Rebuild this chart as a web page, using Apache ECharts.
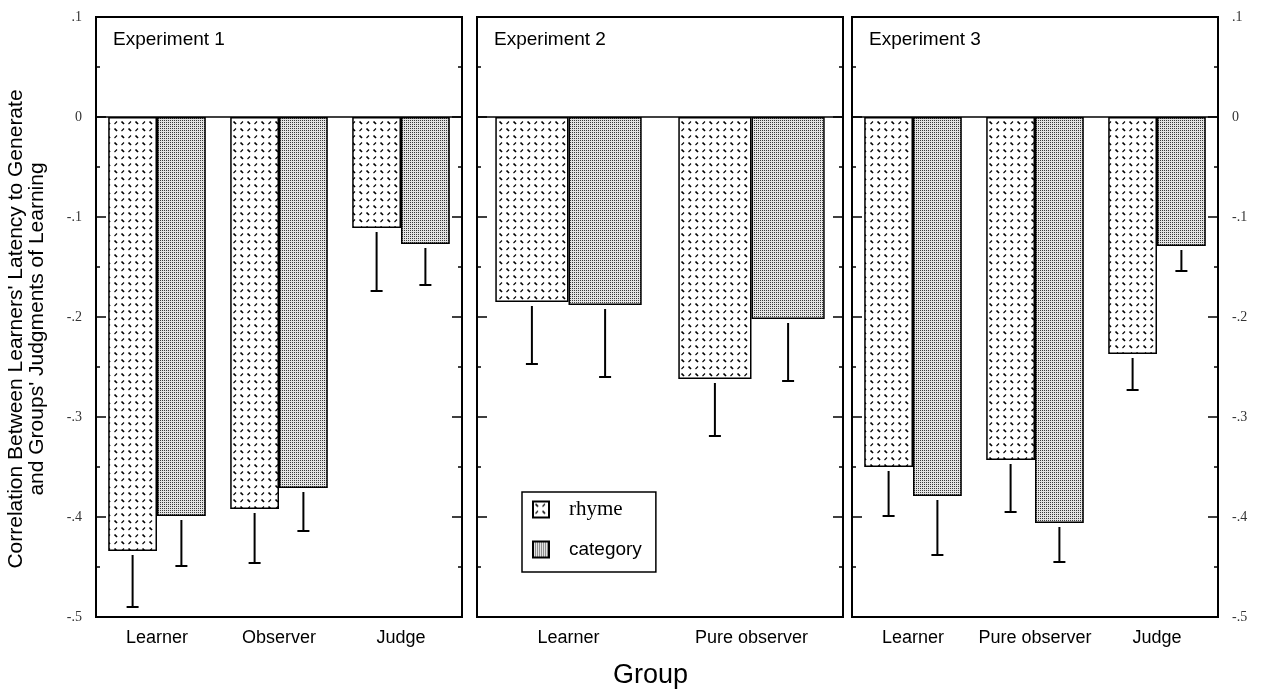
<!DOCTYPE html>
<html>
<head>
<meta charset="utf-8">
<script src="https://cdn.jsdelivr.net/npm/echarts@6.0.0/dist/echarts.min.js"></script>
<style>
  html, body { margin: 0; padding: 0; background: #fff; }
  #chart { width: 1264px; height: 690px; }
</style>
</head>
<body>
<div id="chart"></div>
<script>
// Experiment 1
var exp1Groups = ['Learner', 'Observer', 'Judge'];
var exp1Rhyme = [-0.434, -0.392, -0.111];
var exp1RhymeErr = [0.056, 0.054, 0.063];
var exp1Category = [-0.399, -0.371, -0.127];
var exp1CategoryErr = [0.050, 0.043, 0.041];

// Experiment 2
var exp2Groups = ['Learner', 'Pure observer'];
var exp2Rhyme = [-0.185, -0.262];
var exp2RhymeErr = [0.062, 0.057];
var exp2Category = [-0.188, -0.202];
var exp2CategoryErr = [0.072, 0.062];

// Experiment 3
var exp3Groups = ['Learner', 'Pure observer', 'Judge'];
var exp3Rhyme = [-0.350, -0.343, -0.237];
var exp3RhymeErr = [0.049, 0.052, 0.036];
var exp3Category = [-0.379, -0.406, -0.129];
var exp3CategoryErr = [0.059, 0.039, 0.025];

// y axis ticks
var yTickValues = [0.1, 0, -0.1, -0.2, -0.3, -0.4, -0.5];
var yTickLabels = ['.1', '0', '-.1', '-.2', '-.3', '-.4', '-.5'];

var panelTitles = ['Experiment 1', 'Experiment 2', 'Experiment 3'];

// fill patterns
function rhymeTile() {
  var c = document.createElement('canvas');
  c.width = 14; c.height = 14;
  var g = c.getContext('2d');
  g.fillStyle = '#fff';
  g.fillRect(0, 0, 14, 14);
  g.strokeStyle = '#000';
  // "\" marks heavier, "/" marks lighter
  var heavy = [[2.5, 2.5, 5, 5], [9.5, 9.5, 12, 12]];
  var light = [[9.5, 5, 12, 2.5], [2.5, 12, 5, 9.5]];
  g.lineWidth = 1.7;
  heavy.forEach(function (s) {
    g.beginPath(); g.moveTo(s[0], s[1]); g.lineTo(s[2], s[3]); g.stroke();
  });
  g.lineWidth = 1.1;
  light.forEach(function (s) {
    g.beginPath(); g.moveTo(s[0], s[1]); g.lineTo(s[2], s[3]); g.stroke();
  });
  return c;
}
function categoryTile() {
  var c = document.createElement('canvas');
  c.width = 2; c.height = 2;
  var g = c.getContext('2d');
  g.fillStyle = '#e4e4e4';
  g.fillRect(0, 0, 2, 2);
  g.fillStyle = '#3a3a3a';
  g.fillRect(0, 0, 1, 1);
  return c;
}
var rhymeFill = { image: rhymeTile(), repeat: 'repeat' };
var categoryFill = { image: categoryTile(), repeat: 'repeat' };

var chart = echarts.init(document.getElementById('chart'));

var panels = [
  { groups: exp1Groups, rhyme: exp1Rhyme, rErr: exp1RhymeErr, cat: exp1Category, cErr: exp1CategoryErr, left: 96 },
  { groups: exp2Groups, rhyme: exp2Rhyme, rErr: exp2RhymeErr, cat: exp2Category, cErr: exp2CategoryErr, left: 477 },
  { groups: exp3Groups, rhyme: exp3Rhyme, rErr: exp3RhymeErr, cat: exp3Category, cErr: exp3CategoryErr, left: 852 }
];

function tickLabel(v) {
  for (var i = 0; i < yTickValues.length; i++) {
    if (Math.abs(yTickValues[i] - v) < 1e-6) return yTickLabels[i];
  }
  return '';
}

// error bar drawn below the bar end, side -1 = rhyme, +1 = category
function errorBar(side) {
  return function (params, api) {
    var idx = api.value(0);
    var band = api.size([1, 0])[0];
    var p0 = api.coord([idx, api.value(1)]);
    var p1 = api.coord([idx, api.value(2)]);
    var x = p0[0] + side * band * 0.2;
    var st = { stroke: '#000', lineWidth: 2 };
    return {
      type: 'group',
      children: [
        { type: 'line', shape: { x1: x, y1: p0[1] + 4, x2: x, y2: p1[1] }, style: st },
        { type: 'line', shape: { x1: x - 6, y1: p1[1], x2: x + 6, y2: p1[1] }, style: st }
      ]
    };
  };
}

var grids = [], xAxes = [], yAxes = [], series = [];

panels.forEach(function (p, i) {
  grids.push({
    left: p.left, width: 366, top: 17, height: 600,
    show: true, borderColor: '#000', borderWidth: 2,
    outerBoundsMode: 'none'
  });
  xAxes.push({
    type: 'category', gridIndex: i, data: p.groups,
    axisLine: { show: false }, axisTick: { show: false },
    axisLabel: {
      interval: 0, hideOverlap: false,
      color: '#000', fontFamily: 'Liberation Sans', fontSize: 18, margin: 12
    }
  });
  ['left', 'right'].forEach(function (pos) {
    var showLabels = (i === 0 && pos === 'left') || (i === 2 && pos === 'right');
    var ax = {
      type: 'value', gridIndex: i, position: pos,
      min: -0.5, max: 0.1, interval: 0.1,
      axisLine: { show: false },
      splitLine: { show: false },
      axisTick: { show: true, inside: true, length: 10, lineStyle: { color: '#000', width: 1.5 } },
      minorTick: { show: true, splitNumber: 2, length: 4, lineStyle: { color: '#000', width: 1.5 } },
      axisLabel: {
        show: showLabels, formatter: tickLabel, margin: 14,
        color: '#333', fontFamily: 'Liberation Serif', fontSize: 14
      }
    };
    if (i === 0 && pos === 'left') {
      ax.name = "Correlation Between Learners' Latency to Generate\nand Groups' Judgments of Learning";
      ax.nameLocation = 'middle';
      ax.nameGap = 48;
      ax.nameTextStyle = {
        color: '#000', fontFamily: 'Liberation Sans', fontSize: 21, lineHeight: 21,
        padding: [0, 24, 0, 0]
      };
    }
    yAxes.push(ax);
  });

  var yIdx = i * 2;
  series.push({
    name: 'rhyme', type: 'bar', xAxisIndex: i, yAxisIndex: yIdx,
    data: p.rhyme, barGap: '0%', barCategoryGap: '20%',
    itemStyle: { color: rhymeFill, borderColor: '#000', borderWidth: 1.5 },
    markLine: {
      silent: true, symbol: 'none', label: { show: false },
      lineStyle: { color: '#000', type: 'solid', width: 1.5 },
      data: [{ yAxis: 0 }]
    }
  });
  series.push({
    name: 'category', type: 'bar', xAxisIndex: i, yAxisIndex: yIdx,
    data: p.cat, barGap: '0%', barCategoryGap: '20%',
    itemStyle: { color: categoryFill, borderColor: '#000', borderWidth: 1.5 }
  });
  series.push({
    type: 'custom', xAxisIndex: i, yAxisIndex: yIdx,
    renderItem: errorBar(-1), encode: { x: 0, y: [1, 2] },
    data: p.rhyme.map(function (v, k) { return [k, v, v - p.rErr[k]]; }),
    z: 5
  });
  series.push({
    type: 'custom', xAxisIndex: i, yAxisIndex: yIdx,
    renderItem: errorBar(1), encode: { x: 0, y: [1, 2] },
    data: p.cat.map(function (v, k) { return [k, v, v - p.cErr[k]]; }),
    z: 5
  });
});

var titles = panels.map(function (p, i) {
  return {
    text: panelTitles[i], left: p.left + 17, top: 30, padding: 0,
    textStyle: { color: '#000', fontFamily: 'Liberation Sans', fontSize: 19, fontWeight: 'normal' }
  };
});
titles.push({
  text: 'Group', left: 613, top: 662, padding: 0,
  textStyle: { color: '#000', fontFamily: 'Liberation Sans', fontSize: 27, fontWeight: 'normal' }
});

chart.setOption({
  animation: false,
  backgroundColor: '#fff',
  title: titles,
  legend: {
    orient: 'vertical', left: 522, top: 492,
    padding: [7, 14, 12, 10], itemGap: 19,
    itemWidth: 16, itemHeight: 16,
    backgroundColor: '#fff', borderColor: '#000', borderWidth: 1.5,
    icon: 'rect',
    data: [
      { name: 'rhyme', textStyle: { fontFamily: 'Liberation Serif', fontSize: 21, lineHeight: 21, padding: [0, 0, 0, 15] } },
      { name: 'category', textStyle: { fontFamily: 'Liberation Sans', fontSize: 19, lineHeight: 21, padding: [0, 0, 0, 15] } }
    ],
    textStyle: { color: '#000' }
  },
  grid: grids,
  xAxis: xAxes,
  yAxis: yAxes,
  series: series
});
</script>
</body>
</html>
